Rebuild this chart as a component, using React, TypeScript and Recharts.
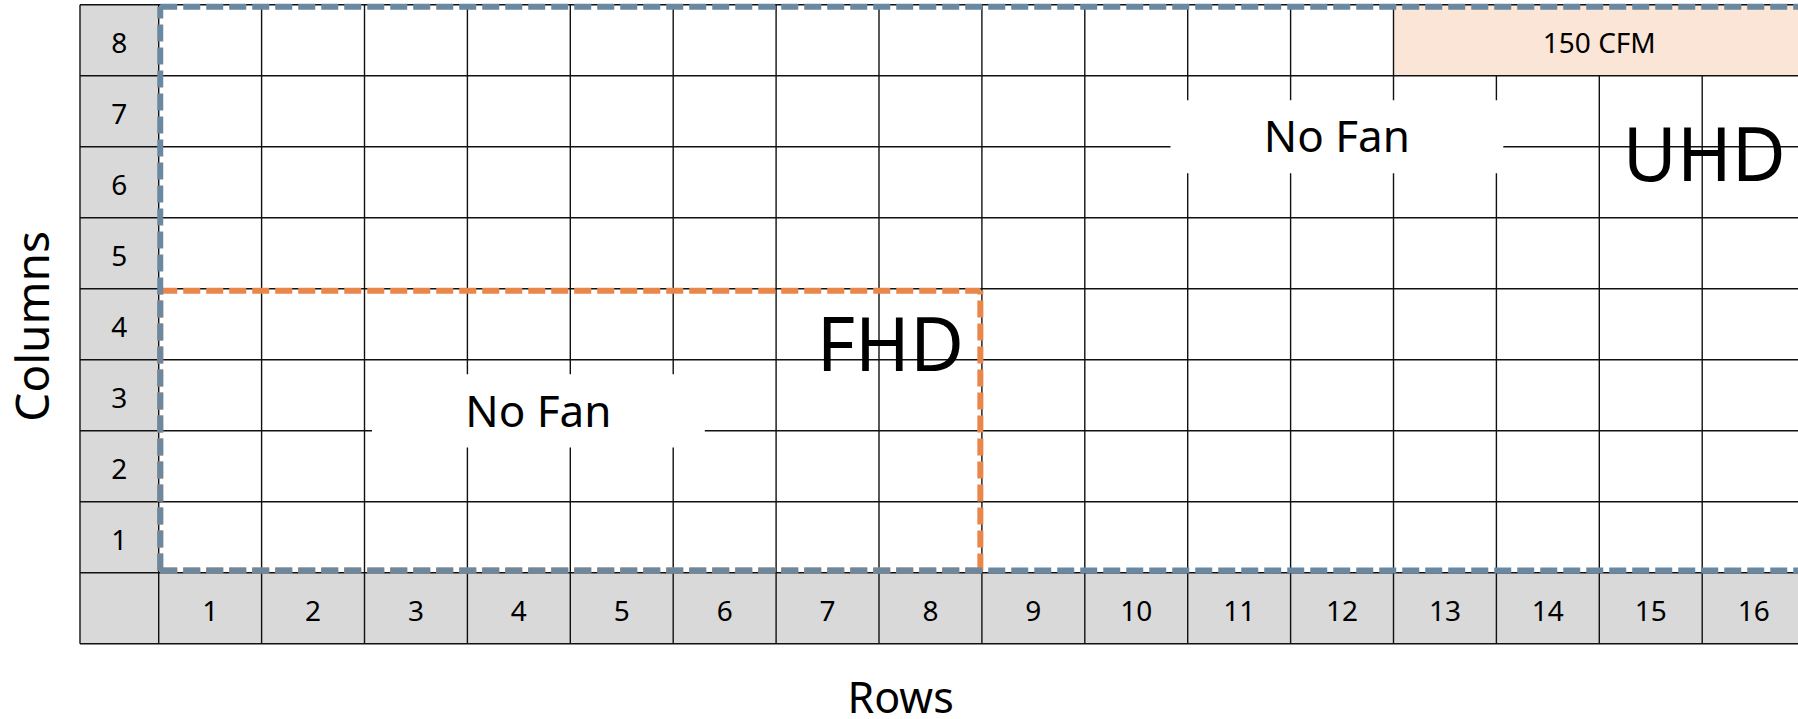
import React from 'react'
import { ScatterChart, Scatter, XAxis, YAxis, ReferenceArea, ReferenceLine } from 'recharts'

// grid numbering: "Rows" run along x, "Columns" run up y
const rowNumbers = [1, 2, 3, 4, 5, 6, 7, 8, 9, 10, 11, 12, 13, 14, 15, 16]
const columnNumbers = [1, 2, 3, 4, 5, 6, 7, 8]

// display zones, sized in rows x columns
const zones = [
  { name: 'FHD', rows: 8, columns: 4, color: '#E9864A' },
  { name: 'UHD', rows: 16, columns: 8, color: '#6A88A0' },
]

// zone captions, placed in grid units
const zoneLabels = [
  { label: 'UHD', x: 15.02, y: 5.89 },
  { label: 'FHD', x: 7.11, y: 3.21 },
]

const fanLabels = [
  { label: 'No Fan', x: 3.69, y: 2.28 },
  { label: 'No Fan', x: 11.45, y: 6.14 },
]

const cfmZone = { label: '150 CFM', rowFrom: 13, rowTo: 16, column: 8 }

const xTitle = [{ label: 'Rows', x: 7.21, y: -1.76 }]
const yTitle = [{ label: 'Columns', x: -1.226, y: 3.47 }]

const WIDTH = 1798
const HEIGHT = 719
const X_DOMAIN = [-1.5423, 15.931]
const Y_DOMAIN = [-2.0606, 8.066]
const HEADER_EDGE = -0.765
const LAST_ROW = rowNumbers[rowNumbers.length - 1]
const LAST_COL = columnNumbers[columnNumbers.length - 1]
const FONT = "'Noto Sans', 'DejaVu Sans', sans-serif"

const headerRowCells = rowNumbers.map((n) => ({ x: n - 0.5, y: -0.5, label: String(n) }))
const headerColCells = columnNumbers.map((n) => ({ x: HEADER_EDGE / 2, y: n - 0.5, label: String(n) }))
const cfmText = [{ label: cfmZone.label, x: (cfmZone.rowFrom - 1 + cfmZone.rowTo) / 2, y: cfmZone.column - 0.5 }]

const verticalLines = [HEADER_EDGE, 0, ...rowNumbers]
const horizontalLines = [-1, 0, ...columnNumbers]

const textShape = (size: number, nudge = 0) => (props: any) => (
  <text
    x={props.cx}
    y={props.cy + size * 0.357 + nudge}
    textAnchor="middle"
    fontSize={size}
    fontFamily={FONT}
    fill="#000"
  >
    {props.payload.label}
  </text>
)

const verticalTextShape = (size: number) => (props: any) => (
  <text
    x={props.cx}
    y={props.cy + size * 0.357}
    textAnchor="middle"
    fontSize={size}
    fontFamily={FONT}
    fill="#000"
    transform={`rotate(-90, ${props.cx}, ${props.cy})`}
  >
    {props.payload.label}
  </text>
)

// four dashed edges of a zone, slightly inset like the original drawing
const zoneEdges = (z: { rows: number; columns: number }) => {
  const ix = 0.015
  const iy = 0.03
  const l = ix
  const r = z.rows - ix
  const b = iy
  const t = z.columns - iy
  return [
    [{ x: l, y: b }, { x: r, y: b }],
    [{ x: l, y: t }, { x: r, y: t }],
    [{ x: l, y: b }, { x: l, y: t }],
    [{ x: r, y: b }, { x: r, y: t }],
  ]
}

export default function App() {
  return (
    <div
      style={{
        position: 'absolute',
        left: 0,
        top: 0,
        width: WIDTH,
        height: HEIGHT,
        overflow: 'hidden',
        background: '#fff',
        fontFamily: FONT,
      }}
    >
      <ScatterChart width={WIDTH} height={HEIGHT} margin={{ top: 0, right: 0, bottom: 0, left: 0 }}>
        <XAxis type="number" dataKey="x" domain={X_DOMAIN} allowDataOverflow hide />
        <YAxis type="number" dataKey="y" domain={Y_DOMAIN} allowDataOverflow hide />

        {/* header strips */}
        <ReferenceArea x1={HEADER_EDGE} x2={0} y1={-1} y2={LAST_COL} fill="#D9D9D9" fillOpacity={1} stroke="none" ifOverflow="hidden" zIndex={10} />
        <ReferenceArea x1={0} x2={LAST_ROW} y1={-1} y2={0} fill="#D9D9D9" fillOpacity={1} stroke="none" ifOverflow="hidden" zIndex={10} />

        {/* 150 CFM band */}
        <ReferenceArea
          x1={cfmZone.rowFrom - 1}
          x2={cfmZone.rowTo}
          y1={cfmZone.column - 1}
          y2={cfmZone.column}
          fill="#FBE5D6"
          fillOpacity={1}
          stroke="none"
          ifOverflow="hidden"
          zIndex={11}
        />

        {/* grid */}
        {verticalLines.map((x) => {
          const top = x > cfmZone.rowFrom - 1 && x <= cfmZone.rowTo ? cfmZone.column - 1 : LAST_COL
          return (
            <ReferenceLine
              key={`v${x}`}
              segment={[{ x, y: -1 }, { x, y: top }]}
              stroke="#111"
              strokeWidth={1.4}
              ifOverflow="hidden"
              zIndex={12}
            />
          )
        })}
        {horizontalLines.map((y) => (
          <ReferenceLine
            key={`h${y}`}
            segment={[{ x: HEADER_EDGE, y }, { x: LAST_ROW, y }]}
            stroke="#111"
            strokeWidth={1.4}
            ifOverflow="hidden"
            zIndex={12}
          />
        ))}

        {/* No Fan boxes */}
        {fanLabels.map((f, i) => (
          <ReferenceArea
            key={`fan${i}`}
            x1={f.x - 1.617}
            x2={f.x + 1.617}
            y1={f.y - 0.515}
            y2={f.y + 0.515}
            fill="#fff"
            fillOpacity={1}
            stroke="none"
            ifOverflow="hidden"
            zIndex={13}
          />
        ))}

        {/* zone outlines */}
        {zones.map((z, zi) =>
          zoneEdges(z).map((seg, si) => (
            <ReferenceLine
              key={`${z.name}${si}`}
              segment={seg}
              stroke={z.color}
              strokeWidth={6}
              strokeDasharray="17 6"
              ifOverflow="hidden"
              zIndex={15 + zi}
            />
          ))
        )}

        <Scatter name="rowHeaders" data={headerRowCells} shape={textShape(28, 2.5)} isAnimationActive={false} zIndex={20} />
        <Scatter name="colHeaders" data={headerColCells} shape={textShape(28, 2.5)} isAnimationActive={false} zIndex={20} />
        <Scatter name="cfm" data={cfmText} shape={textShape(28, 3)} isAnimationActive={false} zIndex={20} />
        <Scatter name="fan" data={fanLabels} shape={textShape(44)} isAnimationActive={false} zIndex={20} />
        <Scatter name="zones" data={zoneLabels} shape={textShape(74)} isAnimationActive={false} zIndex={20} />
        <Scatter name="xTitle" data={xTitle} shape={textShape(43)} isAnimationActive={false} zIndex={20} />
        <Scatter name="yTitle" data={yTitle} shape={verticalTextShape(46)} isAnimationActive={false} zIndex={20} />
      </ScatterChart>
    </div>
  )
}
